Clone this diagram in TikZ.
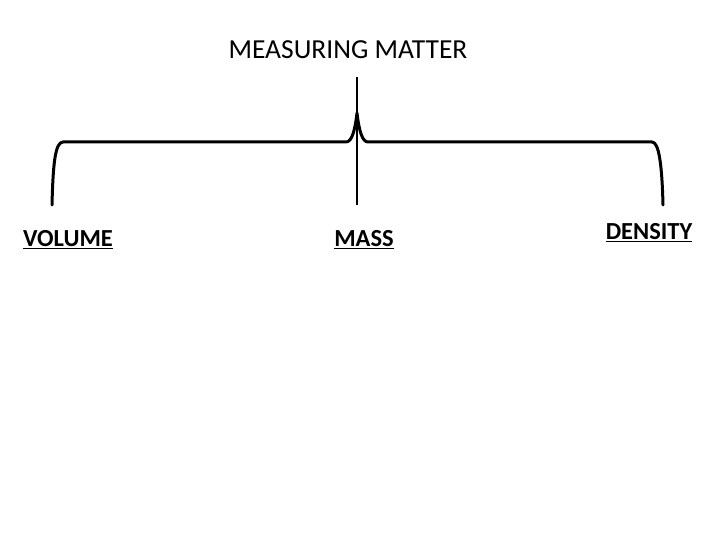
\documentclass[tikz,border=0pt]{standalone}
\usepackage{fontspec}
\setmainfont{Carlito}
\begin{document}
\begin{tikzpicture}[x=1pt,y=-1pt,
  brace/.style={line width=3pt,line cap=round,line join=round},
  leaf/.style={font=\fontsize{24.5}{28}\selectfont\bfseries,anchor=base,inner sep=0pt}]
\useasboundingbox (0,0) rectangle (720,540);
\node[anchor=base,inner sep=0pt,font=\fontsize{27.5}{30}\selectfont] (title) at (348,59) {MEASURING MATTER};
\node[leaf] (vol) at (68,247) {\underline{VOLUME}};
\node[leaf] (mass) at (364,247) {\underline{MASS}};
\node[leaf] (den) at (649,240) {\underline{DENSITY}};
\coordinate (top) at (357,77);
\coordinate (bot) at (357,205);
\draw[brace] (52,205) .. controls (53,165) and (55,142) .. (63,142) -- (346,142)
  .. controls (352,142) and (355,130) .. (357,113)
  .. controls (359,130) and (362,142) .. (368,142) -- (652,142)
  .. controls (659,142) and (662,165) .. (663,205);
\draw[line width=2.8pt] (top) -- (bot);
\end{tikzpicture}
\end{document}
